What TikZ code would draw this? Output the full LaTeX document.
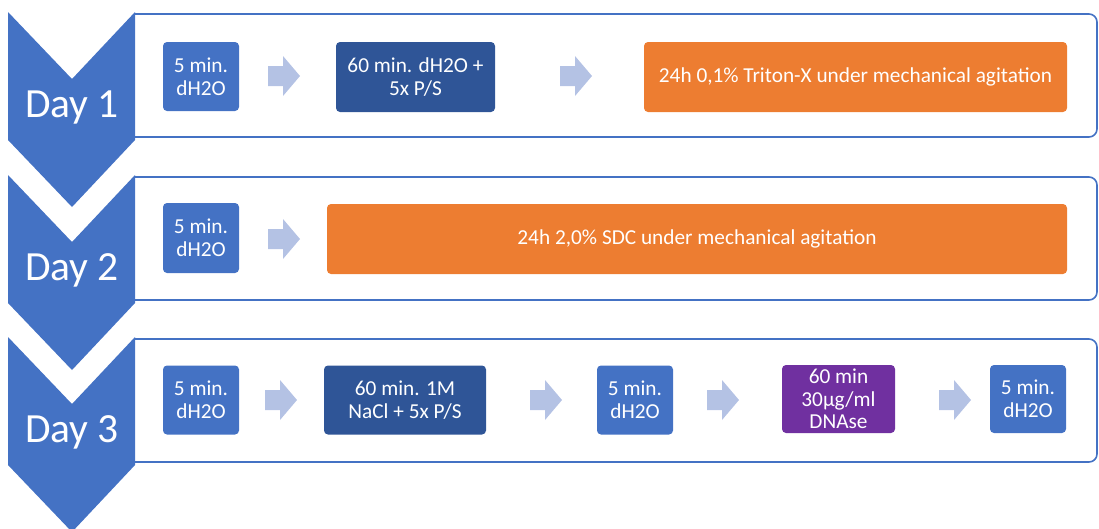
\documentclass[tikz,border=0pt]{standalone}
\usepackage{fontspec}
\setmainfont{Carlito}
\definecolor{stepblue}{HTML}{4472C4}
\definecolor{stepdark}{HTML}{2F5597}
\definecolor{steporange}{HTML}{ED7D31}
\definecolor{steppurple}{HTML}{7030A0}
\definecolor{arrowblue}{HTML}{B4C2E4}
\tikzset{
  rowframe/.style={draw=stepblue, line width=1.6pt, rounded corners=8pt},
  daychevron/.style={fill=stepblue},
  daylabel/.style={text=white, font=\fontsize{41.5}{50}\selectfont, inner sep=0pt},
  stepbox/.style={rounded corners=4pt, text=white, align=center, inner sep=0pt,
    minimum height=69pt, font=\fontsize{21.3}{22.7}\selectfont},
  water/.style={stepbox, fill=stepblue, minimum width=76pt},
  rinse/.style={stepbox, fill=stepdark},
  soak/.style={stepbox, fill=steporange},
  enzyme/.style={stepbox, fill=steppurple},
  arrowfill/.style={fill=arrowblue},
  blockarrow/.pic={\fill[arrowfill] (-16,-10) -- (-1,-10) -- (-1,-20) -- (16,0)
     -- (-1,20) -- (-1,10) -- (-16,10) -- cycle;}
}
\begin{document}
\begin{tikzpicture}[x=1pt, y=-1pt]
\useasboundingbox (0,0) rectangle (1099,528);

% framed rows, open on the left where the chevrons sit
\draw[rowframe] (135,14) -- (1097,14) -- (1097,137) -- (135,137);
\draw[rowframe] (135,177) -- (1097,177) -- (1097,300) -- (135,300);
\draw[rowframe] (135,339) -- (1097,339) -- (1097,462) -- (135,462);

% day chevrons
\foreach \y in {12,175,337}{
  \fill[daychevron] (8,\y) -- (72,\y+67) -- (135,\y) -- (135,\y+128)
     -- (72,\y+195) -- (8,\y+128) -- cycle;
}
\node[daylabel] (dayA) at (72,107) {Day 1};
\node[daylabel] (dayB) at (72,270) {Day 2};
\node[daylabel] (dayC) at (72,432) {Day 3};

% day 1
\node[water] (a1) at (201,76.5) {5 min.\\dH2O};
\pic at (284,76) {blockarrow};
\node[rinse, minimum width=159pt, minimum height=70pt] (a2) at (415.5,77) {60 min. dH2O +\\5x P/S};
\pic at (576,76) {blockarrow};
\node[soak, minimum width=423pt, minimum height=70pt] (a3) at (855.5,77) {24h 0,1\% Triton-X under mechanical agitation};

% day 2
\node[water, minimum height=70pt] (b1) at (201,238) {5 min.\\dH2O};
\pic at (284,239) {blockarrow};
\node[soak, minimum width=740pt, minimum height=70pt] (b2) at (697,239) {24h 2,0\% SDC under mechanical agitation};

% day 3
\node[water] (c1) at (201,400) {5 min.\\dH2O};
\pic at (281,400) {blockarrow};
\node[rinse, minimum width=162pt] (c2) at (405,400) {60 min. 1M\\NaCl + 5x P/S};
\pic at (546,400) {blockarrow};
\node[water] (c3) at (635,400) {5 min.\\dH2O};
\pic at (723,400) {blockarrow};
\node[enzyme, minimum width=113pt, minimum height=68pt] (c4) at (838.5,399) {60 min\\30µg/ml\\DNAse};
\pic at (955,400) {blockarrow};
\node[water, minimum height=68pt] (c5) at (1028,399) {5 min.\\dH2O};
\end{tikzpicture}
\end{document}
